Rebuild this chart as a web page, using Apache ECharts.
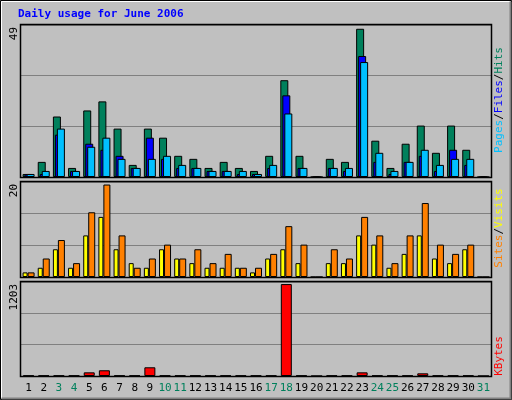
<!DOCTYPE html>
<html><head><meta charset="utf-8">
<script src="https://cdn.jsdelivr.net/npm/echarts@6/dist/echarts.min.js"></script>
<style>html,body{margin:0;padding:0;background:#c0c0c0}#c{width:512px;height:400px}</style>
</head><body><div id="c"></div>
<script>
const days = ['1','2','3','4','5','6','7','8','9','10','11','12','13','14','15','16','17','18','19','20','21','22','23','24','25','26','27','28','29','30','31'];
const weekend = ['3','4','10','11','17','18','24','25','31'];
const hits  = [1,5,20,3,22,25,16,4,16,13,7,6,3,5,3,2,7,32,7,0,6,5,49,12,3,11,17,8,17,9,0];
const files = [1,1,14,2,11,9,7,3,13,6,3,3,2,2,1,1,3,27,3,0,3,2,40,5,1,5,7,2,9,4,0];
const pages = [1,2,16,2,10,13,6,3,6,7,4,3,2,2,2,1,4,21,3,0,3,3,38,8,2,5,9,4,6,6,0];
const sites = [1,2,6,2,9,13,6,3,2,6,4,3,2,2,2,1,4,6,3,0,3,3,9,7,2,5,9,4,3,6,0];
const visits= [1,4,8,3,14,20,9,2,4,7,4,6,3,5,2,2,5,11,7,0,6,4,13,9,3,9,16,7,5,7,0];
const kbytes= [6,6,6,6,48,75,6,6,114,6,6,6,6,6,6,6,6,1203,6,0,6,6,48,6,6,6,35,6,6,6,0];
const maxLabels = ['49','20','1203'];

const font = 'DejaVu Sans Mono';
const ch = echarts.init(document.getElementById('c'));
const grids = [
  {left:21,right:21,top:25,height:152},
  {left:21,right:21,top:182,height:95},
  {left:21,right:21,top:282,height:94}
];
const yMax=[50.25,20.55,1230], yInt=[16.75,6.85,410];
const bord = {borderColor:'#000',borderWidth:1};
function bar(name,data,color,g,w,gap){return {type:'bar',name,data,xAxisIndex:g,yAxisIndex:g,barWidth:w,barGap:gap,
  itemStyle:Object.assign({color},bord),animation:false};}
const f11 = '11px '+font;
ch.setOption({
  backgroundColor:'#c0c0c0',
  animation:false,
  grid:grids,
  xAxis:[0,1,2].map(i=>({type:'category',gridIndex:i,data:days,axisLine:{show:false},axisTick:{show:false},
    axisLabel:{show:i===2,fontFamily:font,fontSize:11,margin:7,interval:0,
      color:(v)=>weekend.includes(v)?'#00805c':'#000'}})),
  yAxis:[0,1,2].map(i=>({type:'value',gridIndex:i,min:0,max:yMax[i],interval:yInt[i],axisLabel:{show:false},
    axisLine:{show:false},axisTick:{show:false},splitLine:{lineStyle:{color:'#808080',width:1}}})),
  series:[
    bar('Hits',hits,'#00805c',0,8,'-75%'),
    bar('Files',files,'#0000ff',0,8,'-75%'),
    bar('Pages',pages,'#00c0ff',0,8,'-75%'),
    bar('Sites',sites,'#ffff00',1,5,'0%'),
    bar('Visits',visits,'#ff8000',1,7,'0%'),
    bar('KBytes',kbytes,'#ff0000',2,11,'0%')
  ],
  graphic:[
    {type:'rect',shape:{x:0.5,y:0.5,width:511,height:399},style:{fill:'none',stroke:'#000',lineWidth:1},z:-1},
    {type:'polyline',shape:{points:[[1.5,398],[1.5,1.5],[510,1.5]]},style:{stroke:'#fff',fill:'none',lineWidth:1}},
    {type:'polyline',shape:{points:[[1.5,398.5],[510.5,398.5],[510.5,1.5]]},style:{stroke:'#808080',fill:'none',lineWidth:2}},
    ...grids.map(g=>({type:'rect',shape:{x:g.left-0.5,y:g.top-0.5,width:512-g.left-g.right+1,height:g.height+1},
      style:{fill:'none',stroke:'#000',lineWidth:1.5},z:10})),
    {type:'text',x:18,y:9,style:{text:'Daily usage for June 2006',font:'bold 11px '+font,fill:'#0000ff'}},
    ...maxLabels.map((t,i)=>({type:'text',x:9,y:grids[i].top+2,rotation:Math.PI/2,
      style:{text:t,font:f11,fill:'#000',align:'right',verticalAlign:'top'}})),
    {type:'text',x:494,y:100,rotation:Math.PI/2,style:{text:'{a|Pages}{s|/}{b|Files}{s|/}{c|Hits}',align:'center',verticalAlign:'top',
      rich:{a:{fill:'#00c0ff',font:f11},b:{fill:'#0000ff',font:f11},c:{fill:'#00805c',font:f11},s:{fill:'#000',font:f11}}}},
    {type:'text',x:494,y:228,rotation:Math.PI/2,style:{text:'{a|Sites}{s|/}{b|Visits}',align:'center',verticalAlign:'top',
      rich:{a:{fill:'#ff8000',font:f11},b:{fill:'#ffff00',font:f11},s:{fill:'#000',font:f11}}}},
    {type:'text',x:494,y:356,rotation:Math.PI/2,style:{text:'KBytes',align:'center',verticalAlign:'top',fill:'#ff0000',font:f11}}
  ]
});
</script></body></html>
